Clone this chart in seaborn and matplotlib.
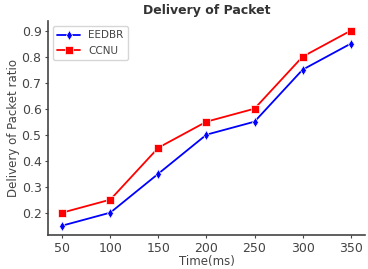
import seaborn as sns
import matplotlib.pyplot as plt
import pandas as pd

sns.set_style("ticks")
plt.rcParams['font.family'] = ['DejaVu Sans']

# data
time_ms = [50, 100, 150, 200, 250, 300, 350]
eedbr = [0.15, 0.20, 0.35, 0.50, 0.55, 0.75, 0.85]
ccnu = [0.20, 0.25, 0.45, 0.55, 0.60, 0.80, 0.90]

df = pd.DataFrame({'time': time_ms * 2,
                   'value': eedbr + ccnu,
                   'proto': ['EEDBR'] * len(eedbr) + ['CCNU'] * len(ccnu)})

fig = plt.figure(figsize=(3.68, 2.69), dpi=100)
ax = fig.add_axes([0.13, 0.125, 0.862, 0.797])

sns.lineplot(data=df, x='time', y='value', hue='proto', style='proto',
             palette={'EEDBR': 'blue', 'CCNU': 'red'},
             markers={'EEDBR': 'd', 'CCNU': 's'}, dashes=False,
             markersize=5.5, linewidth=1.3, markeredgewidth=0.5, ax=ax)

ax.set_title('Delivery of Packet', fontsize=9, fontweight='bold', color='#333333', pad=5)
ax.set_xlabel('Time(ms)', fontsize=8.5, color='#444444', labelpad=0)
ax.set_ylabel('Delivery of Packet ratio', fontsize=8.5, color='#444444', labelpad=1)
ax.set_xticks(time_ms)
ax.set_yticks([0.2, 0.3, 0.4, 0.5, 0.6, 0.7, 0.8, 0.9])
ax.tick_params(labelsize=9, colors='#444444', length=2.5, width=0.8, direction='out', pad=2)
for s in ['left', 'bottom']:
    ax.spines[s].set_color('#444444')
    ax.spines[s].set_linewidth(1.2)
sns.despine(ax=ax)

leg = ax.legend(loc='upper left', fontsize=7.5, frameon=True, handlelength=2.2,
                borderpad=0.4, labelspacing=0.5)
leg.get_frame().set_edgecolor('#cccccc')
for t in leg.get_texts():
    t.set_color('#444444')

fig.savefig('out.png', dpi=100)
